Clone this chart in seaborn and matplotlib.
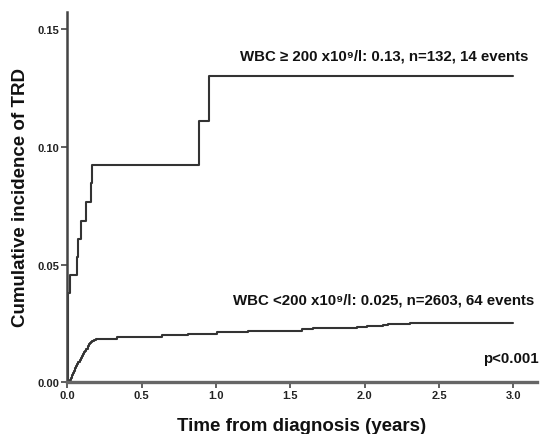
import numpy as np
import pandas as pd
import matplotlib
matplotlib.use("Agg")
import matplotlib.pyplot as plt
import seaborn as sns

# Cumulative incidence of treatment-related death (TRD), by presenting WBC
high_time = [0.0, 0.006, 0.018, 0.063, 0.074, 0.094, 0.124, 0.157, 0.168, 0.886, 0.953, 3.0]
high_cif = [0.0, 0.038, 0.0455, 0.053, 0.061, 0.0685, 0.0765, 0.0845, 0.0925, 0.111, 0.13, 0.13]

low_time = [0.0, 0.012, 0.02, 0.027, 0.034, 0.04, 0.047, 0.054, 0.06, 0.067, 0.075,
            0.083, 0.091, 0.099, 0.107, 0.114, 0.121, 0.128, 0.136, 0.144, 0.152,
            0.16, 0.168, 0.18, 0.195, 0.211, 0.334, 0.637, 0.814, 1.005, 1.217,
            1.576, 1.654, 1.946, 2.013, 2.125, 2.159, 2.215, 2.305, 3.0]
low_cif = [0.0, 0.0004, 0.0008, 0.0018, 0.0029, 0.0038, 0.0048, 0.0058, 0.0067, 0.0078, 0.0086,
           0.0095, 0.0103, 0.0112, 0.0119, 0.0126, 0.0133, 0.0142, 0.0153, 0.0163, 0.0168,
           0.0172, 0.0175, 0.0178, 0.0181, 0.0184, 0.019, 0.0198, 0.0205, 0.0212, 0.0217,
           0.0224, 0.0228, 0.0233, 0.0237, 0.0242, 0.0245, 0.0248, 0.025, 0.025]

group_names = ["WBC >= 200", "WBC < 200"]
x_ticks = [0.0, 0.5, 1.0, 1.5, 2.0, 2.5, 3.0]
y_ticks = [0.00, 0.05, 0.10, 0.15]

label_high = "WBC \u2265 200 x10\u2079/l: 0.13, n=132, 14 events"
label_low = "WBC <200 x10\u2079/l: 0.025, n=2603, 64 events"
p_text = "p<0.001"
x_title = "Time from diagnosis (years)"
y_title = "Cumulative incidence of TRD"

df = pd.concat([
    pd.DataFrame({"time": high_time, "cif": high_cif, "group": group_names[0]}),
    pd.DataFrame({"time": low_time, "cif": low_cif, "group": group_names[1]}),
], ignore_index=True)

sns.set_theme(style="white")
plt.rcParams["font.family"] = ["Liberation Sans", "DejaVu Sans"]

fig = plt.figure(figsize=(5.42, 4.35), dpi=100)
ax = fig.add_axes([0.1242, 0.1195, 0.8660, 0.8515])

sns.lineplot(data=df, x="time", y="cif", hue="group", palette=["#333333", "#333333"],
             drawstyle="steps-post", estimator=None, legend=False, linewidth=1.5, ax=ax)

ax.set_xlim(0, 3.157)
ax.set_ylim(0, 0.1576)
ax.set_xticks(x_ticks)
ax.set_yticks(y_ticks)
tick_font = dict(family=["Liberation Sans Narrow", "Liberation Sans", "DejaVu Sans"],
                 weight="bold", size=8, color="#222222")
ax.set_xticklabels([f"{v:.1f}" for v in x_ticks], fontdict=tick_font)
ax.set_yticklabels([f"{v:.2f}" for v in y_ticks], fontdict=tick_font)
ax.tick_params(axis="both", direction="out", length=4, width=1.2, color="#444444", pad=2,
               bottom=True, left=True)

sns.despine(ax=ax)
ax.spines["left"].set_color("#444444")
ax.spines["left"].set_linewidth(1.8)
ax.spines["bottom"].set_color("#666666")
ax.spines["bottom"].set_linewidth(2.4)

ax.set_xlabel(x_title, fontsize=13.5, fontweight="bold", color="#111111", labelpad=12)
ax.set_ylabel(y_title, fontsize=13.5, fontweight="bold", color="#111111", labelpad=5.5)

text_kw = dict(fontsize=10.8, fontweight="bold", color="#111111",
               family=["Liberation Sans", "DejaVu Sans"])
ax.text(3.1, 0.1389, label_high, ha="right", va="center", **text_kw)
ax.text(3.14, 0.0353, label_low, ha="right", va="center", **text_kw)
ax.text(3.17, 0.0101, p_text, ha="right", va="center", **text_kw)

fig.savefig("out.png", dpi=100)
